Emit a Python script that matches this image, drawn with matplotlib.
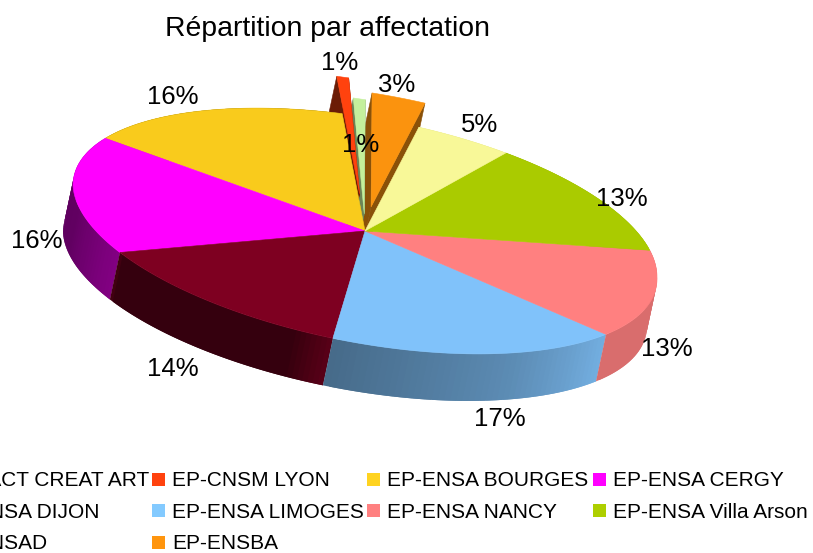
import numpy as np
import matplotlib
matplotlib.use("Agg")
import matplotlib.pyplot as plt
from matplotlib.patches import Polygon, Rectangle

plt.rcParams['font.family'] = ['Liberation Sans', 'DejaVu Sans']

# ---- data ----
categories = ["EP-PACT CREAT ART", "EP-CNSM LYON", "EP-ENSA BOURGES", "EP-ENSA CERGY",
              "EP-ENSA DIJON", "EP-ENSA LIMOGES", "EP-ENSA NANCY", "EP-ENSA Villa Arson",
              "EP-ENSAD", "EP-ENSBA"]
shares = [0.65, 0.65, 16.2, 16.4, 14.1, 17.2, 13.4, 13.45, 5.05, 2.9]
title = "Répartition par affectation"

# ---- style ----
face_colors = ["#c4f09c", "#ff420e", "#f9cb1c", "#ff00ff", "#7e0021",
               "#80c2fa", "#ff8080", "#aacb00", "#f8f898", "#fb930e"]
legend_colors = ["#c4f09c", "#ff420e", "#ffd320", "#ff00ff", "#7e0021",
                 "#83caff", "#ff8080", "#aecf00", "#ffff99", "#ff950e"]
explode = [0.15, 0.32, 0, 0, 0, 0, 0, 0, 0, 0.22]
cut_shade = [0.55, 0.42, 0.5, 0.5, 0.5, 0.5, 0.5, 0.5, 0.5, 0.55]

# ---- projection of the tilted disc, in figure pixels ----
CX, CY = 365.0, 231.0
AX, AY = 292.0, 46.0
BY = 114.0
DEPTH = np.array([-10.0, 47.0])


def project(theta_deg, r=1.0, offset=(0.0, 0.0)):
    t = np.radians(np.asarray(theta_deg, dtype=float))
    c, s = np.cos(t), np.sin(t)
    bx = np.where(s < 0, -4.5, 1.0)
    x = CX + r * (AX * c + bx * s) + offset[0]
    y = CY - r * (-AY * c + BY * s) + offset[1]
    return np.column_stack([x, y])


def wall_shade(theta):
    th = (theta - 90) % 360 + 90
    return np.interp(th, [150, 190, 213, 213.1, 255, 263, 263.1, 300, 325, 325.1, 370],
                     [0.36, 0.38, 0.52, 0.42, 0.42, 0.72, 0.55, 0.72, 0.90, 0.85, 0.85])


def scaled(col, k):
    return tuple(np.array(matplotlib.colors.to_rgb(col)) * k)


fig = plt.figure(figsize=(8.13, 5.53), dpi=100)
ax = fig.add_axes([0, 0, 1, 1])
ax.set_xlim(0, 813)
ax.set_ylim(553, 0)
ax.axis("off")

fractions = np.array(shares) / np.sum(shares)
edges = 90 + 360 * np.concatenate([[0], np.cumsum(fractions)])
mids = (edges[:-1] + edges[1:]) / 2
z = 1


def add_poly(pts, col, lw=0.4):
    global z
    ax.add_patch(Polygon(pts, closed=True, facecolor=col, edgecolor=col if lw else "none",
                         linewidth=lw, zorder=z))
    z += 1


def draw_face(i, off):
    th = np.linspace(edges[i], edges[i + 1], 80)
    add_poly(np.vstack([project(th, 1, off), [[CX + off[0], CY + off[1]]]]), face_colors[i])


# exploded slices go behind the disc
for i in [9, 0, 1]:
    m = project(mids[i], explode[i])[0] - np.array([CX, CY])
    off = tuple(m)
    for th_edge in (edges[i], edges[i + 1]):
        top = project([th_edge], 1, off)[0]
        apex = np.array([CX + off[0], CY + off[1]])
        add_poly([apex, top, top + DEPTH, apex + DEPTH], scaled(face_colors[i], cut_shade[i]))
    draw_face(i, off)

# outer wall of the closed part of the disc: each strip overlaps the next so no seams show
for i in range(2, 9):
    th = np.linspace(edges[i], edges[i + 1], 50)
    for a, b, d in zip(th[:-1], th[1:], list(th[2:]) + [th[-1]]):
        p = project([a, d])
        k = wall_shade((a + b) / 2)
        add_poly([p[0], p[1], p[1] + DEPTH, p[0] + DEPTH], scaled(face_colors[i], k), lw=0)

for i in range(2, 9):
    draw_face(i, (0, 0))

# ---- data labels ----
label_text = [f"{round(v)}%" if v >= 1 else "1%" for v in shares]
label_pos = [(361, 144.5), (340, 63.5), (173, 96.5), (37, 240.5), (173, 368.5),
             (500, 419.5), (667, 349.5), (622, 199.5), (480, 124.5), (397, 84.5)]
for txt, (lx, ly) in zip(label_text, label_pos):
    ax.text(lx, ly, txt, fontsize=18.5, ha="center", va="center", color="black", zorder=500)

ax.text(327, 28.5, title, fontsize=20.4, ha="center", va="center", color="black", zorder=500)

# ---- legend ----
col_text_x = [-60, 172, 387, 613]
row_baseline = [486, 517.5, 549]
for n, (name, col) in enumerate(zip(categories, legend_colors)):
    r, c = n // 4, n % 4
    tx, ty = col_text_x[c], row_baseline[r]
    ax.add_patch(Rectangle((tx - 20, ty - 13.5), 13, 13, facecolor=col, edgecolor="none", zorder=500))
    ax.text(tx, ty, name, fontsize=15, ha="left", va="baseline", color="black", zorder=500, clip_on=False)

fig.savefig("out.png", dpi=100)
